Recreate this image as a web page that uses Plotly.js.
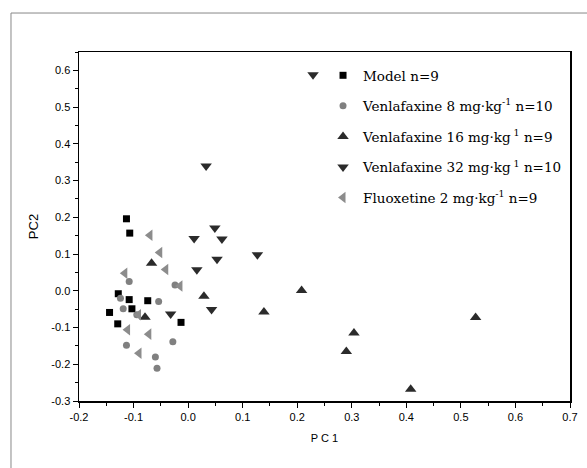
<!DOCTYPE html>
<html>
<head>
<meta charset="utf-8">
<script src="https://cdn.plot.ly/plotly-3.0.1.min.js"></script>
<style>html,body{margin:0;padding:0;background:#fff;overflow:hidden;}</style>
</head>
<body>
<div id="chart" style="width:587px;height:468px;"></div>
<script>
// Data (PC1, PC2)
const modelX = [-0.113, -0.107, -0.128, -0.108, -0.074, -0.103, -0.144, -0.129, -0.013];
const modelY = [0.196, 0.157, -0.008, -0.024, -0.027, -0.049, -0.059, -0.090, -0.086];

const ven8X = [-0.108, -0.124, -0.054, -0.119, -0.113, -0.028, -0.060, -0.057, -0.024, -0.094];
const ven8Y = [0.025, -0.020, -0.029, -0.049, -0.148, -0.139, -0.180, -0.211, 0.016, -0.065];

const ven16X = [-0.067, 0.029, -0.079, 0.139, 0.208, 0.304, 0.290, 0.408, 0.527];
const ven16Y = [0.075, -0.015, -0.072, -0.058, 0.001, -0.115, -0.165, -0.268, -0.073];

const ven32X = [0.033, 0.049, 0.011, 0.062, 0.127, 0.053, 0.016, 0.043, -0.032, 0.229];
const ven32Y = [0.340, 0.171, 0.142, 0.141, 0.098, 0.086, 0.057, -0.051, -0.063, 0.588];

const fluX = [-0.070, -0.052, -0.041, -0.116, -0.015, -0.091, -0.111, -0.072, -0.090];
const fluY = [0.151, 0.104, 0.058, 0.048, 0.013, -0.065, -0.106, -0.118, -0.170];

const seriesNames = [
  'Model n=9',
  'Venlafaxine 8 mg·kg<sup>-1</sup> n=10',
  'Venlafaxine 16 mg·kg<sup> 1</sup> n=9',
  'Venlafaxine 32 mg·kg<sup> 1</sup> n=10',
  'Fluoxetine 2 mg·kg<sup>-1</sup> n=9'
];

const xTicks = [-0.2, -0.1, 0.0, 0.1, 0.2, 0.3, 0.4, 0.5, 0.6, 0.7];
const xTickText = ['-0.2', '-0.1', '0.0', '0.1', '0.2', '0.3', '0.4', '0.5', '0.6', '0.7'];
const yTicks = [-0.3, -0.2, -0.1, 0.0, 0.1, 0.2, 0.3, 0.4, 0.5, 0.6];
const yTickText = ['-0.3', '-0.2', '-0.1', '0.0', '0.1', '0.2', '0.3', '0.4', '0.5', '0.6'];

function tr(x, y, name, symbol, color, size, g) {
  return {
    x: x, y: y, name: name, type: 'scatter', mode: 'markers',
    legendgroup: g,
    marker: {symbol: symbol, color: color, size: size, line: {width: 0}},
    cliponaxis: false
  };
}

const data = [
  tr(modelX, modelY, seriesNames[0], 'square', '#000000', 7, 'a'),
  tr(ven8X, ven8Y, seriesNames[1], 'circle', '#808080', 7, 'b'),
  tr(ven16X, ven16Y, seriesNames[2], 'triangle-up', '#2b2b2b', 10, 'c'),
  tr(ven32X, ven32Y, seriesNames[3], 'triangle-down', '#2b2b2b', 10, 'd'),
  tr(fluX, fluY, seriesNames[4], 'triangle-left', '#8c8c8c', 10, 'e')
];

const axisCommon = {
  showgrid: false, zeroline: false,
  showline: true, linecolor: '#000', linewidth: 1.5, mirror: true,
  ticks: 'outside', ticklen: 5, tickwidth: 1, tickcolor: '#000',
  tickmode: 'array',
  tickfont: {family: 'Liberation Sans, Arial, sans-serif', size: 11, color: '#000'},
  minor: {ticks: 'outside', ticklen: 3, tickwidth: 1, tickcolor: '#000', dtick: 0.05}
};

const layout = {
  width: 587, height: 468,
  margin: {l: 79, r: 17, t: 52, b: 67},
  paper_bgcolor: '#fff', plot_bgcolor: '#fff',
  showlegend: true,
  legend: {
    x: 0.497, y: 0.977, xanchor: 'left', yanchor: 'top',
    bgcolor: 'rgba(0,0,0,0)', borderwidth: 0,
    font: {family: 'DejaVu Serif, Liberation Serif, serif', size: 13.5, color: '#000'},
    tracegroupgap: 10, itemwidth: 30
  },
  xaxis: Object.assign({}, axisCommon, {
    range: [-0.2, 0.7], tickvals: xTicks, ticktext: xTickText,
    title: {text: 'P C 1', font: {family: 'Liberation Sans, Arial, sans-serif', size: 11, color: '#000'}, standoff: 12}
  }),
  yaxis: Object.assign({}, axisCommon, {
    range: [-0.3, 0.65], tickvals: yTicks, ticktext: yTickText,
    title: {text: 'PC2', font: {family: 'Liberation Sans, Arial, sans-serif', size: 13, color: '#000'}, standoff: 10}
  }),
  shapes: [
    {type: 'rect', xref: 'paper', yref: 'paper', x0: -0.1385, x1: 1.6, y0: -0.6, y1: 1.1117, line: {color: '#888', width: 1}, fillcolor: 'rgba(0,0,0,0)', layer: 'below'}
  ]
};

Plotly.newPlot('chart', data, layout, {displayModeBar: false, staticPlot: true});
</script>
</body>
</html>
